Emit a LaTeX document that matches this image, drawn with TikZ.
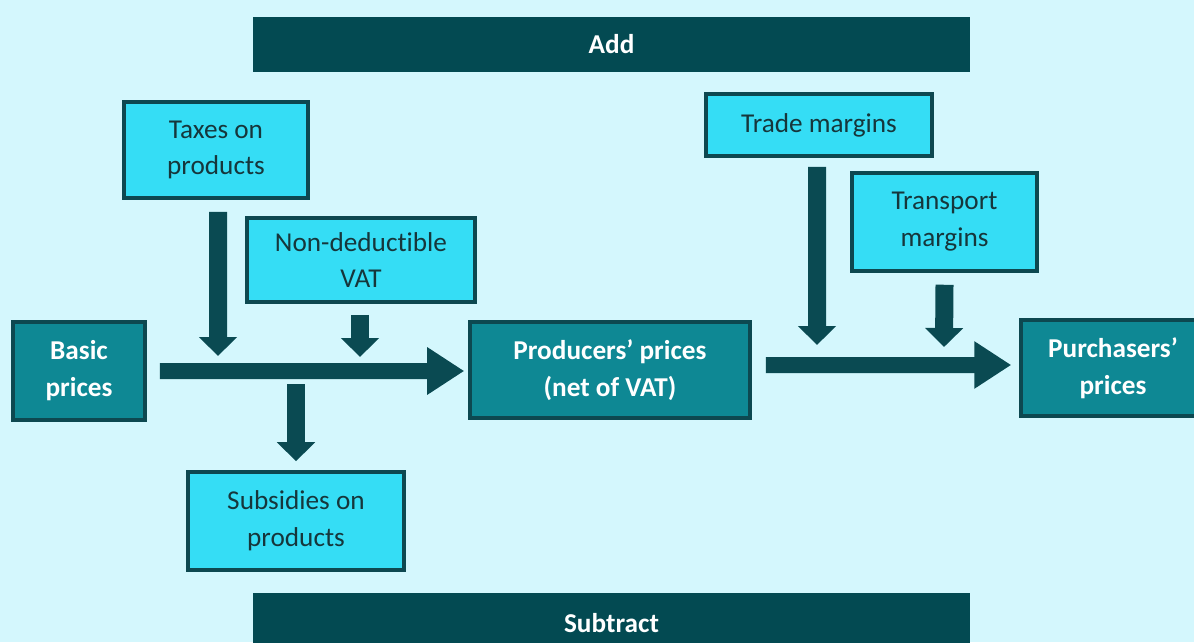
\documentclass[tikz,border=0pt]{standalone}
\usepackage{fontspec}
\setmainfont[Ligatures=NoCommon]{Carlito}
\usepackage{tikz}
\usetikzlibrary{positioning,arrows.meta,calc}
\definecolor{PageCyan}{HTML}{D4F7FD}
\definecolor{LightBox}{HTML}{35DDF5}
\definecolor{TealBox}{HTML}{0E8894}
\definecolor{DarkBar}{HTML}{034A52}
\definecolor{EdgeDark}{HTML}{0D4850}
\definecolor{ArrowDark}{HTML}{0A4A52}
\definecolor{InkDark}{HTML}{16363B}

\begin{document}
\begin{tikzpicture}[
  font=\fontsize{15.5}{21}\selectfont,
  basebox/.style={rectangle,draw=EdgeDark,line width=2pt,align=center,inner sep=0pt},
  addbox/.style={basebox,fill=LightBox,text=InkDark},
  pricebox/.style={basebox,fill=TealBox,text=white,font=\fontsize{15.5}{21}\selectfont\bfseries},
  bar/.style={rectangle,fill=DarkBar,text=white,minimum width=14.34cm,font=\fontsize{15.5}{21}\selectfont\bfseries},
  mainflow/.style={-{Triangle[length=0.74cm,width=0.9cm]},line width=0.32cm,draw=ArrowDark},
  dropflow/.style={-{Triangle[length=0.38cm,width=0.74cm]},line width=0.36cm,draw=ArrowDark}
]
\useasboundingbox[fill=PageCyan] (0,0) rectangle (23.88,12.84);

% Bars
\node[bar,minimum height=1.1cm] (addbar) at (12.23,11.95) {Add};
\node[bar,minimum height=1.2cm] (subbar) at (12.23,0.38) {Subtract};

% Price stages
\node[pricebox,minimum width=2.64cm,minimum height=1.96cm] (basic) at (1.58,5.42) {Basic\\prices};
\node[pricebox,minimum width=5.6cm,minimum height=1.92cm] (producers) at (12.2,5.44) {Producers’ prices\\(net of VAT)};
\node[pricebox,minimum width=3.68cm,minimum height=1.92cm] (purchasers) at (22.26,5.48) {Purchasers’\\prices};

% Items added or subtracted
\node[addbox,minimum width=3.68cm,minimum height=1.92cm] (taxes) at (4.32,9.84) {Taxes on\\products};
\node[addbox,minimum width=4.56cm,minimum height=1.68cm] (vat) at (7.22,7.64) {Non-deductible\\VAT};
\node[addbox,minimum width=4.32cm,minimum height=1.96cm] (subsidies) at (5.92,2.42) {Subsidies on\\products};
\node[addbox,minimum width=4.52cm,minimum height=1.24cm] (trade) at (16.38,10.34) {Trade margins};
\node[addbox,minimum width=3.7cm,minimum height=1.96cm] (transport) at (18.89,8.4) {Transport\\margins};

% Main flows
\draw[mainflow] ($(basic.east)+(0.26,0)$) -- ($(producers.west)+(-0.08,-0.02)$);
\draw[mainflow] ($(producers.east)+(0.28,0.1)$) -- ($(purchasers.west)+(-0.16,0.06)$);

% Points on the main flows
\coordinate (taxin) at (4.36,5.72);
\coordinate (vatin) at (7.2,5.70);
\coordinate (subout) at (5.92,5.16);
\coordinate (tradein) at (16.34,5.94);
\coordinate (transin) at (18.88,5.90);

% Drops
\draw[dropflow] ($(taxes.south)+(0.04,-0.24)$) -- (taxin);
\draw[dropflow] ($(vat.south)+(-0.02,-0.22)$) -- (vatin);
\draw[dropflow] (subout) -- ($(subsidies.north)+(0,0.18)$);
\draw[dropflow] ($(trade.south)+(-0.04,-0.18)$) -- (tradein);
\draw[dropflow] ($(transport.south)+(0,-0.24)$) -- (transin);

\end{tikzpicture}
\end{document}
